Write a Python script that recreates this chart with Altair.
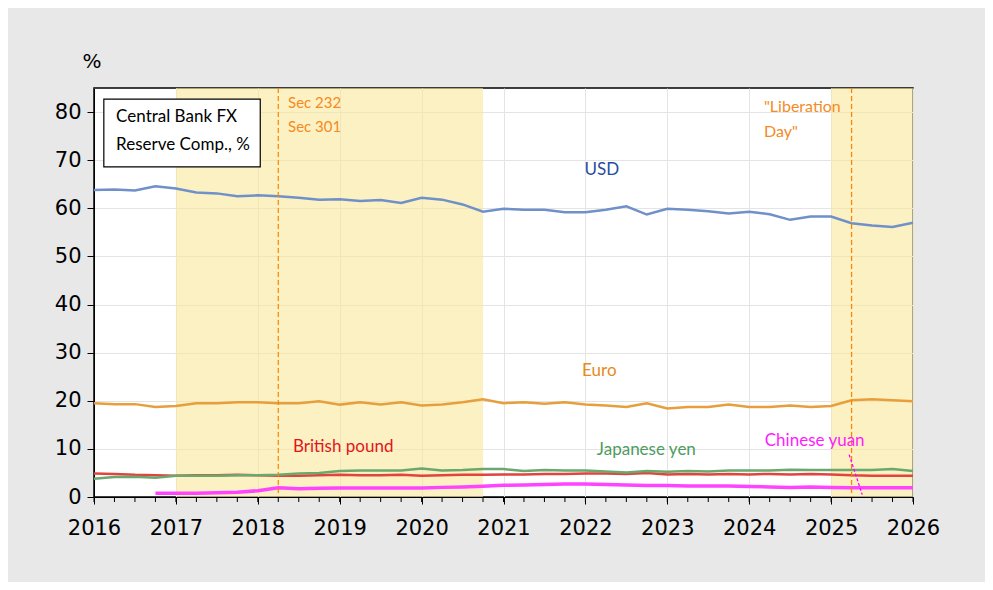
import altair as alt
import pandas as pd

# quarterly observations, 2016Q1 .. 2026Q1 positions
quarters = [2016 + i * 0.25 for i in range(41)]

usd = [63.8, 63.9, 63.7, 64.6, 64.1, 63.3, 63.1, 62.5, 62.7, 62.5,
       62.2, 61.8, 61.9, 61.5, 61.7, 61.1, 62.2, 61.8, 60.8, 59.3,
       59.9, 59.7, 59.7, 59.2, 59.2, 59.7, 60.4, 58.7, 59.9, 59.7,
       59.4, 58.9, 59.3, 58.75, 57.6, 58.3, 58.3, 56.9, 56.4, 56.1, 57.0]
euro = [19.5, 19.3, 19.3, 18.7, 18.9, 19.5, 19.5, 19.7, 19.7, 19.5,
        19.5, 19.9, 19.2, 19.7, 19.2, 19.7, 19.0, 19.2, 19.7, 20.3,
        19.5, 19.7, 19.4, 19.7, 19.2, 19.0, 18.7, 19.5, 18.4, 18.7,
        18.7, 19.2, 18.7, 18.7, 19.0, 18.7, 18.9, 20.1, 20.3, 20.1, 19.9]
pound = [4.9, 4.8, 4.6, 4.5, 4.4, 4.5, 4.5, 4.6, 4.5, 4.4,
         4.4, 4.5, 4.6, 4.5, 4.5, 4.6, 4.4, 4.5, 4.6, 4.6,
         4.7, 4.7, 4.8, 4.8, 4.9, 4.9, 4.8, 5.0, 4.7, 4.8,
         4.7, 4.8, 4.7, 4.8, 4.7, 4.8, 4.7, 4.5, 4.4, 4.4, 4.4]
yen = [3.8, 4.15, 4.2, 4.0, 4.4, 4.4, 4.4, 4.5, 4.5, 4.6,
       4.9, 5.0, 5.4, 5.5, 5.5, 5.5, 5.9, 5.5, 5.6, 5.8,
       5.8, 5.4, 5.6, 5.5, 5.5, 5.3, 5.1, 5.4, 5.25, 5.4,
       5.3, 5.5, 5.5, 5.5, 5.65, 5.6, 5.6, 5.6, 5.6, 5.8, 5.4]
yuan = [None, None, None, 0.8, 0.8, 0.8, 0.9, 1.0, 1.3, 1.9,
        1.7, 1.8, 1.85, 1.85, 1.85, 1.85, 1.85, 2.0, 2.1, 2.25,
        2.45, 2.5, 2.6, 2.7, 2.7, 2.6, 2.5, 2.4, 2.4, 2.3,
        2.3, 2.3, 2.2, 2.1, 2.0, 2.1, 2.0, 1.9, 1.9, 1.9, 1.9]

series_names = ["USD", "Euro", "British pound", "Japanese yen", "Chinese yuan"]
series_values = [usd, euro, pound, yen, yuan]
series_colors = ["#6f90c8", "#e69f3c", "#e0443c", "#6aa870", "#ff44ff"]
series_widths = [2.5, 2.5, 2.5, 2.5, 3.5]

shade_start = [2017.0, 2025.0]
shade_end = [2020.75, 2026.0]

event_dates = [2018.25, 2025.25]

label_text = ["USD", "Euro", "British pound", "Japanese yen", "Chinese yuan"]
label_x = [2021.99, 2021.96, 2018.43, 2022.14, 2024.19]
label_y = [68.0, 26.2, 10.4, 9.8, 11.6]
label_colors = ["#1f4e9e", "#e68a1c", "#e3141b", "#4c9c5e", "#ff1aff"]

event_text = ["Sec 232", "Sec 301", "\"Liberation", "Day\""]
event_text_x = [2018.37, 2018.37, 2024.18, 2024.18]
event_text_y = [81.9, 76.9, 81.0, 75.9]
event_text_size = [15, 15, 16, 16]

box_lines = ["Central Bank FX", "Reserve Comp., %"]
box_line_y = [79.0, 73.2]
box_x = [2016.12, 2018.03]
box_y = [68.6, 82.7]
box_text_x = 2016.27

yuan_pointer_x = [2025.22, 2025.38]
yuan_pointer_y = [8.8, 0.5]

y_ticks = [0, 10, 20, 30, 40, 50, 60, 70, 80]
x_ticks = list(range(2016, 2027))

W, H = 819, 409

xs = alt.Scale(domain=[2016, 2026], nice=False, zero=False)
ys = alt.Scale(domain=[0, 85], nice=False, zero=True)

rows = []
for name, vals in zip(series_names, series_values):
    for t, v in zip(quarters, vals):
        rows.append({"t": t, "v": v, "s": name})
df = pd.DataFrame(rows)

shade_df = pd.DataFrame({"a": shade_start, "b": shade_end})
shade = alt.Chart(shade_df).mark_rect(color="#fae899", opacity=0.6).encode(
    x=alt.X("a:Q", scale=xs,
            axis=alt.Axis(values=x_ticks, format="d", grid=True, gridColor="#e4e4e4",
                          labelFont="DejaVu Sans", labelFontSize=21, labelColor="black",
                          labelPadding=13, labelFlush=False, labelOverlap=False,
                          tickColor="black", tickSize=7,
                          domainColor="black", title=None)),
    x2="b:Q",
    y=alt.value(0), y2=alt.value(H),
)

lines = []
for name, col, sw in zip(series_names, series_colors, series_widths):
    lines.append(
        alt.Chart(df[df.s == name]).mark_line(color=col, strokeWidth=sw).encode(
            x=alt.X("t:Q", scale=xs),
            y=alt.Y("v:Q", scale=ys,
                    axis=alt.Axis(values=y_ticks, grid=True, gridColor="#e4e4e4",
                                  labelFont="DejaVu Sans", labelFontSize=21,
                                  labelColor="black", labelPadding=6, labelFlush=False,
                                  tickColor="black", tickSize=7, domainColor="black",
                                  title="%", titleAngle=0, titleAlign="left",
                                  titleBaseline="alphabetic", titleX=-12, titleY=-21,
                                  titleFont="DejaVu Sans", titleFontSize=20,
                                  titleFontWeight="normal", titleColor="black")),
        )
    )

ev_df = pd.DataFrame({"t": event_dates})
events = alt.Chart(ev_df).mark_rule(color="#ff8000", strokeDash=[5, 3], strokeWidth=1.2).encode(
    x=alt.X("t:Q", scale=xs), y=alt.value(0), y2=alt.value(H)
)

ptr_df = pd.DataFrame({"x": [yuan_pointer_x[0]], "x2": [yuan_pointer_x[1]],
                       "y": [yuan_pointer_y[0]], "y2": [yuan_pointer_y[1]]})
pointer = alt.Chart(ptr_df).mark_rule(color="#ff00ff", strokeDash=[3, 2], strokeWidth=1.3).encode(
    x=alt.X("x:Q", scale=xs), x2="x2:Q", y=alt.Y("y:Q", scale=ys), y2="y2:Q"
)

box_df = pd.DataFrame({"x": [box_x[0]], "x2": [box_x[1]], "y": [box_y[0]], "y2": [box_y[1]]})
box = alt.Chart(box_df).mark_rect(fill="white", stroke="black", strokeWidth=1.2).encode(
    x=alt.X("x:Q", scale=xs), x2="x2:Q", y=alt.Y("y:Q", scale=ys), y2="y2:Q"
)
box_txt_df = pd.DataFrame({"txt": box_lines, "y": box_line_y, "x": [box_text_x] * 2})
box_txt = alt.Chart(box_txt_df).mark_text(align="left", baseline="middle", font="Lato",
                                          fontSize=17, color="black").encode(
    x=alt.X("x:Q", scale=xs), y=alt.Y("y:Q", scale=ys), text="txt:N"
)

lab_df = pd.DataFrame({"txt": label_text, "x": label_x, "y": label_y, "c": label_colors})
labels = alt.Chart(lab_df).mark_text(align="left", baseline="middle", font="Lato",
                                     fontSize=17).encode(
    x=alt.X("x:Q", scale=xs), y=alt.Y("y:Q", scale=ys), text="txt:N",
    color=alt.Color("c:N", scale=None)
)

evt_df = pd.DataFrame({"txt": event_text, "x": event_text_x, "y": event_text_y,
                       "fs": event_text_size})
evt_labels = alt.Chart(evt_df).mark_text(align="left", baseline="middle", font="Lato",
                                         color="#f58a1f").encode(
    x=alt.X("x:Q", scale=xs), y=alt.Y("y:Q", scale=ys), text="txt:N",
    size=alt.Size("fs:Q", scale=None)
)

minor_df = pd.DataFrame({"t": quarters})
minor = alt.Chart(minor_df).mark_rule(color="black", strokeWidth=1, clip=False).encode(
    x=alt.X("t:Q", scale=xs), y=alt.value(H), y2=alt.value(H + 5)
)

chart = alt.layer(shade, *lines, events, pointer, box, box_txt, labels, evt_labels, minor).properties(
    width=W, height=H,
    autosize=alt.AutoSizeParams(type="none"),
    padding={"left": 86, "top": 80, "right": 72, "bottom": 85},
    background="#e8e8e8",
).configure_view(fill="white", stroke="black", strokeWidth=1.5)

chart.save("out.html", embed_options={"renderer": "svg", "actions": False})
